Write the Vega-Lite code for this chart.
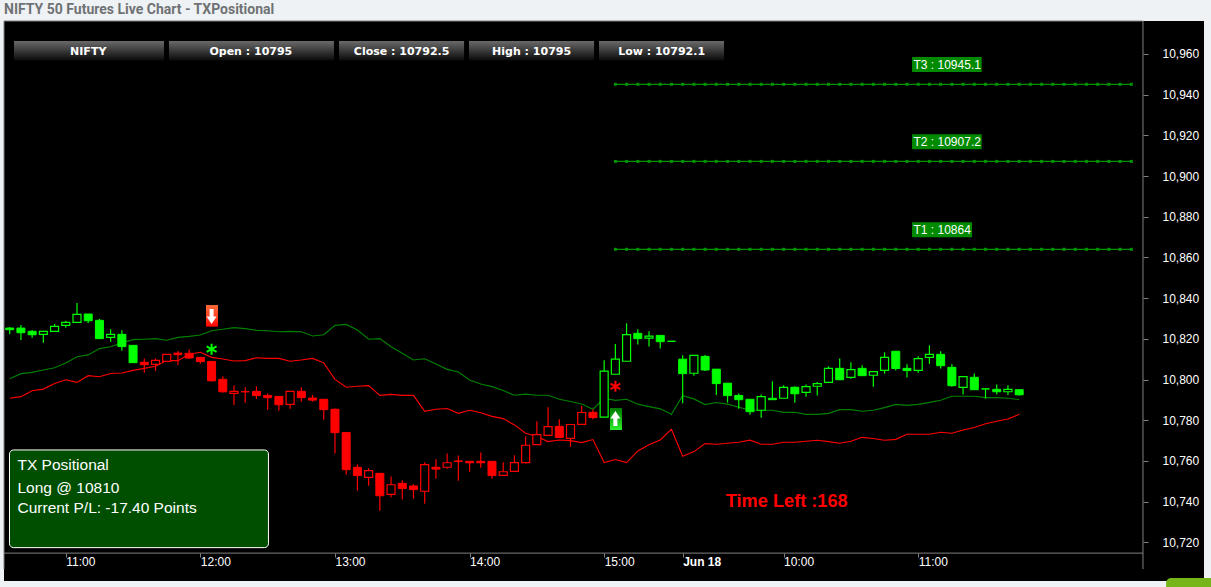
{"$schema":"https://vega.github.io/schema/vega-lite/v6.json","width":1200,"height":560,"autosize":{"type":"none"},"padding":{"left":4,"top":21,"right":7,"bottom":6},"background":"#eff2f4","view":{"fill":"#000000","stroke":null},
"title":{"text":"NIFTY 50 Futures Live Chart - TXPositional","anchor":"start","frame":"group","offset":4,"font":"Roboto","fontSize":14,"fontWeight":"bold","color":"#6f7274"},
"datasets":{
"candles":[
{"i":0,"o":10825.3,"h":10825.8,"l":10822.2,"c":10824.5,"up":10800.4,"lo":10790.8,"s":"g"},
{"i":1,"o":10825.3,"h":10826.8,"l":10819.4,"c":10823.0,"up":10802.9,"lo":10791.6,"s":"g"},
{"i":2,"o":10823.7,"h":10824.3,"l":10820.6,"c":10822.0,"up":10803.5,"lo":10794.5,"s":"g"},
{"i":3,"o":10822.2,"h":10823.7,"l":10818.1,"c":10823.7,"up":10804.7,"lo":10795.3,"s":"g"},
{"i":4,"o":10823.7,"h":10827.3,"l":10823.7,"c":10826.1,"up":10805.8,"lo":10798.1,"s":"g"},
{"i":5,"o":10826.6,"h":10828.8,"l":10825.5,"c":10828.1,"up":10808.1,"lo":10799.9,"s":"g"},
{"i":6,"o":10828.1,"h":10837.6,"l":10828.1,"c":10832.0,"up":10811.2,"lo":10798.6,"s":"g"},
{"i":7,"o":10832.2,"h":10832.2,"l":10827.8,"c":10828.9,"up":10812.1,"lo":10801.9,"s":"g"},
{"i":8,"o":10829.1,"h":10829.8,"l":10820.1,"c":10820.1,"up":10815.2,"lo":10801.4,"s":"g"},
{"i":9,"o":10820.7,"h":10824.7,"l":10818.6,"c":10822.2,"up":10816.1,"lo":10803.0,"s":"g"},
{"i":10,"o":10822.2,"h":10824.2,"l":10814.2,"c":10816.2,"up":10818.0,"lo":10803.2,"s":"g"},
{"i":11,"o":10816.8,"h":10816.8,"l":10808.3,"c":10808.3,"up":10819.6,"lo":10804.5,"s":"g"},
{"i":12,"o":10808.5,"h":10810.4,"l":10803.4,"c":10807.3,"up":10819.8,"lo":10805.5,"s":"r"},
{"i":13,"o":10807.5,"h":10810.4,"l":10804.2,"c":10809.4,"up":10820.1,"lo":10806.5,"s":"r"},
{"i":14,"o":10808.9,"h":10812.4,"l":10808.9,"c":10812.4,"up":10819.3,"lo":10809.3,"s":"r"},
{"i":15,"o":10813.0,"h":10814.0,"l":10807.1,"c":10812.2,"up":10820.7,"lo":10809.3,"s":"r"},
{"i":16,"o":10812.9,"h":10814.8,"l":10810.1,"c":10810.6,"up":10821.2,"lo":10812.4,"s":"r"},
{"i":17,"o":10810.9,"h":10810.9,"l":10807.8,"c":10808.8,"up":10821.9,"lo":10813.4,"s":"r"},
{"i":18,"o":10808.9,"h":10808.9,"l":10799.0,"c":10799.4,"up":10824.0,"lo":10810.9,"s":"r"},
{"i":19,"o":10800.1,"h":10801.6,"l":10793.5,"c":10794.0,"up":10824.7,"lo":10810.1,"s":"r"},
{"i":20,"o":10793.2,"h":10797.1,"l":10787.5,"c":10794.2,"up":10825.5,"lo":10809.1,"s":"r"},
{"i":21,"o":10794.0,"h":10796.2,"l":10788.6,"c":10794.0,"up":10825.0,"lo":10809.3,"s":"r"},
{"i":22,"o":10794.2,"h":10796.7,"l":10790.4,"c":10792.1,"up":10824.2,"lo":10810.7,"s":"r"},
{"i":23,"o":10792.2,"h":10793.2,"l":10785.2,"c":10791.1,"up":10824.0,"lo":10810.4,"s":"r"},
{"i":24,"o":10791.7,"h":10791.7,"l":10784.7,"c":10787.6,"up":10823.5,"lo":10810.4,"s":"r"},
{"i":25,"o":10787.8,"h":10794.2,"l":10785.7,"c":10794.2,"up":10823.7,"lo":10809.0,"s":"r"},
{"i":26,"o":10794.2,"h":10796.2,"l":10789.1,"c":10791.1,"up":10823.5,"lo":10809.6,"s":"r"},
{"i":27,"o":10790.9,"h":10792.4,"l":10789.1,"c":10789.9,"up":10821.4,"lo":10810.4,"s":"r"},
{"i":28,"o":10790.3,"h":10790.3,"l":10780.3,"c":10785.2,"up":10822.0,"lo":10808.2,"s":"r"},
{"i":29,"o":10785.4,"h":10785.8,"l":10763.6,"c":10773.9,"up":10826.6,"lo":10800.1,"s":"r"},
{"i":30,"o":10774.0,"h":10774.0,"l":10753.2,"c":10755.7,"up":10827.1,"lo":10796.2,"s":"r"},
{"i":31,"o":10756.9,"h":10758.3,"l":10745.4,"c":10752.8,"up":10824.3,"lo":10796.7,"s":"r"},
{"i":32,"o":10751.9,"h":10756.4,"l":10747.8,"c":10755.2,"up":10819.8,"lo":10797.0,"s":"r"},
{"i":33,"o":10753.9,"h":10753.9,"l":10735.5,"c":10742.9,"up":10820.1,"lo":10792.2,"s":"r"},
{"i":34,"o":10743.6,"h":10752.4,"l":10742.1,"c":10748.3,"up":10816.1,"lo":10792.7,"s":"r"},
{"i":35,"o":10749.0,"h":10750.5,"l":10741.0,"c":10746.4,"up":10812.9,"lo":10792.2,"s":"r"},
{"i":36,"o":10747.7,"h":10748.5,"l":10741.4,"c":10745.9,"up":10809.6,"lo":10792.2,"s":"r"},
{"i":37,"o":10745.1,"h":10759.3,"l":10739.0,"c":10758.2,"up":10810.2,"lo":10784.4,"s":"r"},
{"i":38,"o":10756.9,"h":10760.8,"l":10751.3,"c":10756.0,"up":10807.6,"lo":10785.4,"s":"r"},
{"i":39,"o":10756.9,"h":10763.7,"l":10756.2,"c":10759.1,"up":10805.0,"lo":10785.8,"s":"r"},
{"i":40,"o":10760.0,"h":10762.7,"l":10750.3,"c":10759.8,"up":10803.7,"lo":10783.4,"s":"r"},
{"i":41,"o":10759.8,"h":10759.8,"l":10754.7,"c":10759.1,"up":10799.8,"lo":10784.9,"s":"r"},
{"i":42,"o":10759.8,"h":10764.2,"l":10756.7,"c":10759.1,"up":10797.8,"lo":10783.7,"s":"r"},
{"i":43,"o":10759.8,"h":10759.8,"l":10751.3,"c":10752.8,"up":10796.5,"lo":10781.9,"s":"r"},
{"i":44,"o":10752.9,"h":10759.3,"l":10752.9,"c":10754.7,"up":10794.6,"lo":10780.8,"s":"r"},
{"i":45,"o":10754.9,"h":10762.8,"l":10754.9,"c":10759.2,"up":10792.3,"lo":10777.7,"s":"r"},
{"i":46,"o":10759.2,"h":10772.1,"l":10758.7,"c":10767.7,"up":10792.8,"lo":10773.6,"s":"r"},
{"i":47,"o":10768.0,"h":10779.5,"l":10768.0,"c":10772.9,"up":10792.3,"lo":10772.0,"s":"r"},
{"i":48,"o":10772.6,"h":10786.4,"l":10772.6,"c":10776.9,"up":10792.3,"lo":10769.5,"s":"r"},
{"i":49,"o":10777.0,"h":10780.5,"l":10771.5,"c":10771.5,"up":10790.3,"lo":10770.3,"s":"r"},
{"i":50,"o":10771.1,"h":10777.9,"l":10767.0,"c":10777.9,"up":10789.2,"lo":10770.0,"s":"r"},
{"i":51,"o":10778.0,"h":10787.0,"l":10778.0,"c":10783.8,"up":10788.0,"lo":10769.0,"s":"r"},
{"i":52,"o":10783.9,"h":10785.4,"l":10780.5,"c":10781.3,"up":10785.4,"lo":10770.5,"s":"r"},
{"i":53,"o":10781.5,"h":10809.5,"l":10781.5,"c":10804.1,"up":10790.8,"lo":10759.2,"s":"g"},
{"i":54,"o":10802.6,"h":10817.5,"l":10802.6,"c":10810.0,"up":10789.8,"lo":10760.7,"s":"g"},
{"i":55,"o":10809.0,"h":10827.6,"l":10809.0,"c":10822.1,"up":10790.3,"lo":10759.2,"s":"g"},
{"i":56,"o":10822.7,"h":10824.7,"l":10817.2,"c":10820.1,"up":10787.9,"lo":10764.9,"s":"g"},
{"i":57,"o":10820.4,"h":10823.7,"l":10816.2,"c":10821.3,"up":10786.7,"lo":10767.9,"s":"g"},
{"i":58,"o":10821.7,"h":10821.7,"l":10815.2,"c":10818.6,"up":10785.6,"lo":10770.3,"s":"g"},
{"i":59,"o":10818.8,"h":10818.8,"l":10818.8,"c":10818.8,"up":10782.9,"lo":10775.6,"s":"g"},
{"i":60,"o":10810.0,"h":10811.9,"l":10788.3,"c":10802.9,"up":10792.1,"lo":10762.3,"s":"g"},
{"i":61,"o":10803.1,"h":10811.9,"l":10801.9,"c":10811.9,"up":10790.5,"lo":10764.6,"s":"g"},
{"i":62,"o":10811.4,"h":10812.1,"l":10804.2,"c":10804.7,"up":10787.7,"lo":10768.5,"s":"g"},
{"i":63,"o":10805.1,"h":10805.1,"l":10792.4,"c":10798.0,"up":10788.7,"lo":10768.2,"s":"g"},
{"i":64,"o":10798.2,"h":10798.2,"l":10788.7,"c":10792.1,"up":10787.9,"lo":10768.7,"s":"g"},
{"i":65,"o":10792.2,"h":10793.2,"l":10785.7,"c":10790.1,"up":10786.4,"lo":10769.2,"s":"g"},
{"i":66,"o":10790.3,"h":10790.3,"l":10782.7,"c":10784.2,"up":10785.0,"lo":10770.2,"s":"g"},
{"i":67,"o":10784.9,"h":10792.7,"l":10781.2,"c":10791.6,"up":10784.9,"lo":10768.2,"s":"g"},
{"i":68,"o":10790.8,"h":10799.1,"l":10790.1,"c":10790.1,"up":10784.9,"lo":10768.2,"s":"g"},
{"i":69,"o":10790.8,"h":10797.2,"l":10790.8,"c":10796.2,"up":10783.9,"lo":10769.2,"s":"g"},
{"i":70,"o":10796.2,"h":10796.7,"l":10788.6,"c":10793.0,"up":10783.9,"lo":10769.2,"s":"g"},
{"i":71,"o":10793.7,"h":10797.6,"l":10791.6,"c":10796.5,"up":10782.9,"lo":10769.7,"s":"g"},
{"i":72,"o":10796.7,"h":10798.8,"l":10792.1,"c":10798.0,"up":10782.9,"lo":10770.2,"s":"g"},
{"i":73,"o":10798.6,"h":10806.5,"l":10798.6,"c":10805.5,"up":10783.4,"lo":10769.5,"s":"g"},
{"i":74,"o":10805.5,"h":10810.4,"l":10799.9,"c":10799.9,"up":10785.2,"lo":10768.7,"s":"g"},
{"i":75,"o":10801.1,"h":10808.5,"l":10800.4,"c":10804.9,"up":10785.2,"lo":10769.7,"s":"g"},
{"i":76,"o":10805.5,"h":10807.0,"l":10801.9,"c":10801.9,"up":10784.4,"lo":10771.6,"s":"g"},
{"i":77,"o":10802.1,"h":10803.9,"l":10796.5,"c":10803.9,"up":10784.9,"lo":10771.0,"s":"g"},
{"i":78,"o":10804.5,"h":10813.4,"l":10802.9,"c":10810.9,"up":10786.2,"lo":10770.2,"s":"g"},
{"i":79,"o":10813.9,"h":10813.9,"l":10804.4,"c":10805.4,"up":10787.8,"lo":10770.6,"s":"g"},
{"i":80,"o":10805.5,"h":10807.5,"l":10801.0,"c":10804.4,"up":10787.3,"lo":10773.1,"s":"g"},
{"i":81,"o":10804.5,"h":10811.4,"l":10803.4,"c":10810.3,"up":10787.8,"lo":10773.1,"s":"g"},
{"i":82,"o":10810.9,"h":10816.8,"l":10807.7,"c":10812.4,"up":10788.8,"lo":10773.1,"s":"g"},
{"i":83,"o":10812.4,"h":10813.9,"l":10805.4,"c":10806.8,"up":10789.8,"lo":10774.1,"s":"g"},
{"i":84,"o":10806.0,"h":10807.5,"l":10796.5,"c":10797.0,"up":10791.8,"lo":10773.6,"s":"g"},
{"i":85,"o":10796.2,"h":10801.4,"l":10792.6,"c":10801.4,"up":10791.8,"lo":10775.2,"s":"g"},
{"i":86,"o":10801.1,"h":10803.0,"l":10795.0,"c":10795.0,"up":10791.8,"lo":10776.4,"s":"g"},
{"i":87,"o":10795.4,"h":10795.4,"l":10790.6,"c":10795.4,"up":10791.1,"lo":10778.3,"s":"g"},
{"i":88,"o":10795.2,"h":10797.6,"l":10792.6,"c":10794.0,"up":10791.1,"lo":10779.5,"s":"g"},
{"i":89,"o":10794.0,"h":10797.2,"l":10792.4,"c":10795.2,"up":10790.8,"lo":10780.6,"s":"g"},
{"i":90,"o":10795,"h":10795,"l":10792.1,"c":10792.5,"up":10790.1,"lo":10782.9,"s":"g"}
],
"levels":[
{"v":10945.1,"i":[54,55,56,57,58,59,60,61,62,63,64,65,66,67,68,69,70,71,72,73,74,75,76,77,78,79,80,81,82,83,84,85,86,87,88,89,90,91,92,93,94,95,96,97,98,99,100]},
{"v":10907.2,"i":[54,55,56,57,58,59,60,61,62,63,64,65,66,67,68,69,70,71,72,73,74,75,76,77,78,79,80,81,82,83,84,85,86,87,88,89,90,91,92,93,94,95,96,97,98,99,100]},
{"v":10864,"i":[54,55,56,57,58,59,60,61,62,63,64,65,66,67,68,69,70,71,72,73,74,75,76,77,78,79,80,81,82,83,84,85,86,87,88,89,90,91,92,93,94,95,96,97,98,99,100]}
],
"buttons":[
{"x0":0.383,"x1":13.756,"xm":7.0,"t":"NIFTY"},
{"x0":14.2,"x1":28.91,"xm":21.5,"t":"Open : 10795"},
{"x0":29.36,"x1":40.51,"xm":34.94,"t":"Close : 10792.5"},
{"x0":40.95,"x1":52.1,"xm":46.53,"t":"High : 10795"},
{"x0":52.54,"x1":63.69,"xm":58.12,"t":"Low : 10792.1"}
],
"tboxes":[
{"x0":80.45,"x1":86.66,"y0":10951.1,"y1":10958.5,"xt":80.58,"yt":10954.8,"t":"T3 : 10945.1"},
{"x0":80.45,"x1":86.66,"y0":10913.2,"y1":10920.6,"xt":80.58,"yt":10916.9,"t":"T2 : 10907.2"},
{"x0":80.45,"x1":85.8,"y0":10869.9,"y1":10877.3,"xt":80.58,"yt":10873.6,"t":"T1 : 10864"}
],
"info":[
{"x":0.695,"y":10758.0,"t":"TX Positional"},
{"x":0.695,"y":10746.7,"t":"Long @ 10810"},
{"x":0.695,"y":10736.9,"t":"Current P/L: -17.40 Points"}
],
"signals":[
{"i":18,"price":10814.9,"s":"g"},
{"i":54,"price":10796.7,"s":"r"}
],
"frame":[
{"x0":-0.508,"x1":101.04,"y0":10976.2,"y1":10976.2},
{"x0":-0.508,"x1":101.04,"y0":10714.7,"y1":10714.7},
{"x0":-0.508,"x1":-0.508,"y0":10976.2,"y1":10706.9},
{"x0":101.04,"x1":101.04,"y0":10976.2,"y1":10706.9}
],
"one":[{"k":1}]
},
"config":{"axis":{"title":null}},
"layer":[
{"data":{"name":"one"},"mark":{"type":"rect","color":"#76b61b","cornerRadiusTopLeft":5},
 "encoding":{"x":{"datum":103.1,"type":"quantitative"},"x2":{"datum":107.5},"y":{"datum":10702.5,"type":"quantitative"},"y2":{"datum":10695.6}}},
{"data":{"name":"buttons"},"mark":{"type":"rect","color":{"gradient":"linear","x1":0,"y1":0,"x2":0,"y2":1,"stops":[{"offset":0,"color":"#6a6a6a"},{"offset":1,"color":"#0a0a0a"}]}},
 "encoding":{"x":{"field":"x0","type":"quantitative"},"x2":{"field":"x1"},"y":{"datum":10966.4,"type":"quantitative"},"y2":{"datum":10956.8}}},
{"data":{"name":"buttons"},"mark":{"type":"text","font":"DejaVu Sans","fontWeight":"bold","fontSize":11,"color":"#ffffff","baseline":"middle","align":"center"},
 "encoding":{"x":{"field":"xm","type":"quantitative"},"y":{"datum":10961.0,"type":"quantitative"},"text":{"field":"t"}}},
{"data":{"name":"levels"},"transform":[{"flatten":["i"]}],"mark":{"type":"line","color":"#009400","strokeWidth":1.2},
 "encoding":{"x":{"field":"i","type":"quantitative"},"y":{"field":"v","type":"quantitative"},"detail":{"field":"v"}}},
{"data":{"name":"levels"},"transform":[{"flatten":["i"]}],"mark":{"type":"point","shape":"square","filled":true,"color":"#009400","size":9,"opacity":1},
 "encoding":{"x":{"field":"i","type":"quantitative"},"y":{"field":"v","type":"quantitative"}}},
{"data":{"name":"tboxes"},"mark":{"type":"rect","color":"#008a00"},
 "encoding":{"x":{"field":"x0","type":"quantitative"},"x2":{"field":"x1"},"y":{"field":"y0","type":"quantitative"},"y2":{"field":"y1"}}},
{"data":{"name":"tboxes"},"mark":{"type":"text","font":"Liberation Sans","fontSize":12,"color":"#ffffff","align":"left","baseline":"middle"},
 "encoding":{"x":{"field":"xt","type":"quantitative"},"y":{"field":"yt","type":"quantitative"},"text":{"field":"t"}}},
{"data":{"name":"candles"},"mark":{"type":"line","color":"#008000","strokeWidth":1.15},
 "encoding":{"x":{"field":"i","type":"quantitative"},"y":{"field":"up","type":"quantitative"}}},
{"data":{"name":"candles"},"mark":{"type":"line","color":"#ff0000","strokeWidth":1.1},
 "encoding":{"x":{"field":"i","type":"quantitative"},"y":{"field":"lo","type":"quantitative"}}},
{"data":{"name":"candles"},"mark":{"type":"rule","strokeWidth":1.2},
 "encoding":{
  "x":{"field":"i","type":"quantitative","scale":{"domain":[-0.508,106.48],"nice":false,"zero":false,"padding":0},
   "axis":{"orient":"bottom","offset":-28,"title":null,"domain":false,"grid":false,"values":[5,17,29,41,53,60,69,81],"tickColor":"#808080","tickSize":4,"labelColor":"#ffffff","labelFont":"Liberation Sans","labelFontSize":12,"labelAlign":"left","labelBaseline":"top","labelPadding":-1,"labelDx":5,"labelFlush":false,"labelBound":false,"labelOverlap":false,
    "labelFontWeight":{"condition":{"test":"datum.value==60","value":"bold"},"value":"normal"},
    "labelExpr":"datum.value==5||datum.value==81?'11:00':datum.value==17?'12:00':datum.value==29?'13:00':datum.value==41?'14:00':datum.value==53?'15:00':datum.value==60?'Jun 18':'10:00'"}},
  "y":{"field":"l","type":"quantitative","scale":{"domain":[10701.0,10976.2],"nice":false,"zero":false,"padding":0},
   "axis":{"orient":"right","offset":-61,"title":null,"domain":false,"grid":false,"values":[10720,10740,10760,10780,10800,10820,10840,10860,10880,10900,10920,10940,10960],"format":",d","tickColor":"#808080","tickSize":5,"labelColor":"#ffffff","labelFont":"Liberation Sans","labelFontSize":12,"labelPadding":14,"labelFlush":false,"labelBound":false,"labelOverlap":false}},
  "y2":{"field":"h"},
  "color":{"field":"s","scale":{"domain":["g","r"],"range":["#00ff00","#ff0000"]},"legend":null}}},
{"data":{"name":"candles"},"transform":[{"filter":"datum.c<=datum.o"}],"mark":{"type":"bar","orient":"vertical","size":8,"strokeWidth":1},
 "encoding":{"x":{"field":"i","type":"quantitative"},"y":{"field":"o","type":"quantitative"},"y2":{"field":"c"},
  "fill":{"field":"s","scale":{"domain":["g","r"],"range":["#00ff00","#ff0000"]},"legend":null},
  "stroke":{"field":"s","scale":{"domain":["g","r"],"range":["#00ff00","#ff0000"]},"legend":null}}},
{"data":{"name":"candles"},"transform":[{"filter":"datum.c>datum.o"}],"mark":{"type":"bar","orient":"vertical","size":8,"strokeWidth":1.2,"fill":"#000000"},
 "encoding":{"x":{"field":"i","type":"quantitative"},"y":{"field":"o","type":"quantitative"},"y2":{"field":"c"},
  "stroke":{"field":"s","scale":{"domain":["g","r"],"range":["#00ff00","#ff0000"]},"legend":null}}},
{"data":{"name":"one"},"mark":{"type":"rect","color":{"gradient":"linear","x1":0,"y1":0,"x2":0,"y2":1,"stops":[{"offset":0,"color":"#ff6a3a"},{"offset":0.55,"color":"#ff4020"},{"offset":1,"color":"#ff0000"}]}},
 "encoding":{"x":{"datum":17.5,"type":"quantitative"},"x2":{"datum":18.57},"y":{"datum":10836.6,"type":"quantitative"},"y2":{"datum":10826.0}}},
{"data":{"name":"one"},"mark":{"type":"rect","color":{"gradient":"linear","x1":0,"y1":0,"x2":0,"y2":1,"stops":[{"offset":0,"color":"#007800"},{"offset":1,"color":"#2cf02c"}]}},
 "encoding":{"x":{"datum":53.52,"type":"quantitative"},"x2":{"datum":54.59},"y":{"datum":10786.0,"type":"quantitative"},"y2":{"datum":10775.2}}},
{"data":{"name":"one"},"mark":{"type":"point","shape":"M0,0.75L0.5,0L0.2,0L0.2,-0.75L-0.2,-0.75L-0.2,0L-0.5,0Z","filled":true,"color":"#ffffff","size":400,"opacity":1,"strokeWidth":0},
 "encoding":{"x":{"datum":18,"type":"quantitative"},"y":{"datum":10831.0,"type":"quantitative"}}},
{"data":{"name":"one"},"mark":{"type":"point","shape":"M0,-0.75L0.5,0L0.2,0L0.2,0.75L-0.2,0.75L-0.2,0L-0.5,0Z","filled":true,"color":"#ffffff","size":400,"opacity":1,"strokeWidth":0},
 "encoding":{"x":{"datum":54,"type":"quantitative"},"y":{"datum":10780.9,"type":"quantitative"}}},
{"data":{"name":"signals"},"mark":{"type":"point","shape":"M0,-0.5L0,0.5M-0.45,-0.25L0.45,0.25M-0.45,0.25L0.45,-0.25","filled":false,"size":484,"strokeWidth":2,"opacity":1},
 "encoding":{"x":{"field":"i","type":"quantitative"},"y":{"field":"price","type":"quantitative"},
  "stroke":{"field":"s","scale":{"domain":["g","r"],"range":["#00ff00","#ff0000"]},"legend":null}}},
{"data":{"name":"one"},"mark":{"type":"rect","color":"#004f00","stroke":"#ffffff","strokeWidth":1,"cornerRadius":4},
 "encoding":{"x":{"datum":-0.018,"type":"quantitative"},"x2":{"datum":23.07},"y":{"datum":10765.4,"type":"quantitative"},"y2":{"datum":10717.4}}},
{"data":{"name":"info"},"mark":{"type":"text","font":"Liberation Sans","fontSize":15.5,"color":"#ffffff","align":"left","baseline":"middle"},
 "encoding":{"x":{"field":"x","type":"quantitative"},"y":{"field":"y","type":"quantitative"},"text":{"field":"t"}}},
{"data":{"name":"one"},"mark":{"type":"text","font":"Liberation Sans","fontSize":18.2,"fontWeight":"bold","color":"#ff0000","align":"left","baseline":"middle"},
 "encoding":{"x":{"datum":63.84,"type":"quantitative"},"y":{"datum":10740.0,"type":"quantitative"},"text":{"value":"Time Left :168"}}},
{"data":{"name":"frame"},"mark":{"type":"rule","color":"#808080","strokeWidth":1},
 "encoding":{"x":{"field":"x0","type":"quantitative"},"x2":{"field":"x1"},"y":{"field":"y0","type":"quantitative"},"y2":{"field":"y1"}}}
]}
